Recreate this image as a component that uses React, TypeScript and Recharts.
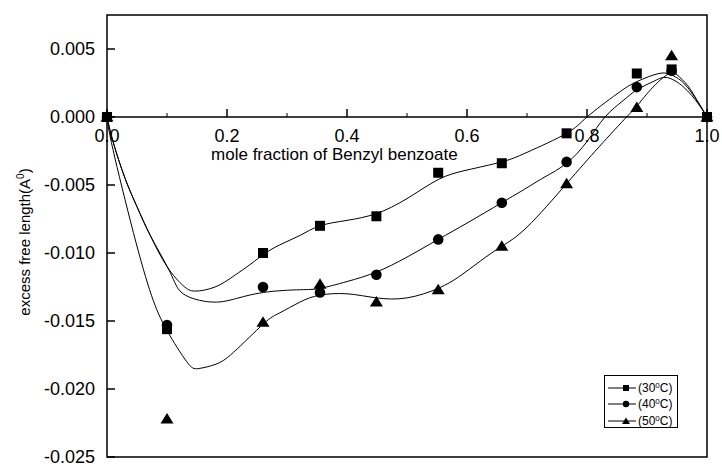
import React from 'react';
import {
  ComposedChart,
  Line,
  Scatter,
  XAxis,
  YAxis,
  ReferenceLine,
  ReferenceArea,
  ReferenceDot,
  Legend,
  Label,
} from 'recharts';

// measured points
const moleFraction = [0, 0.1, 0.26, 0.355, 0.449, 0.552, 0.658, 0.766, 0.883, 0.941, 1.0];
const excess30 = [0, -0.0156, -0.01, -0.008, -0.0073, -0.0041, -0.0034, -0.0012, 0.0032, 0.0035, 0];
const excess40 = [0, -0.0153, -0.0125, -0.0129, -0.0116, -0.009, -0.0063, -0.0033, 0.0022, 0.0034, 0];
const excess50 = [0, -0.0222, -0.0151, -0.0123, -0.0136, -0.0127, -0.0095, -0.0049, 0.0007, 0.0045, 0];

// fitted curves
const fitX30 = [0, 0.01, 0.03, 0.05, 0.072, 0.1, 0.127, 0.147, 0.18, 0.211, 0.24, 0.261, 0.288, 0.322, 0.355, 0.4, 0.449, 0.5, 0.552, 0.6, 0.658, 0.7, 0.766, 0.8, 0.85, 0.883, 0.92, 0.94, 0.961, 0.985, 1.0];
const fitY30 = [0, -0.0018, -0.0045, -0.0066, -0.0087, -0.011, -0.0124, -0.0128, -0.0125, -0.0117, -0.0108, -0.0101, -0.0094, -0.0087, -0.008, -0.0076, -0.0071, -0.006, -0.0046, -0.0039, -0.0033, -0.0026, -0.0012, 0, 0.0017, 0.0026, 0.0032, 0.0031, 0.0025, 0.0011, 0];
const fitX40 = [0, 0.01, 0.03, 0.05, 0.072, 0.105, 0.127, 0.172, 0.211, 0.261, 0.322, 0.355, 0.4, 0.449, 0.5, 0.552, 0.6, 0.658, 0.7, 0.73, 0.766, 0.8, 0.83, 0.86, 0.883, 0.91, 0.933, 0.961, 0.985, 1.0];
const fitY40 = [0, -0.0018, -0.0045, -0.0066, -0.0087, -0.0114, -0.013, -0.0136, -0.0134, -0.0129, -0.0127, -0.0126, -0.0121, -0.0114, -0.0103, -0.009, -0.0078, -0.0063, -0.0052, -0.0044, -0.0034, -0.0018, 0, 0.0012, 0.002, 0.0026, 0.0029, 0.0022, 0.001, 0];
const fitX50 = [0, 0.01, 0.044, 0.074, 0.1, 0.133, 0.152, 0.18, 0.211, 0.261, 0.288, 0.322, 0.355, 0.4, 0.449, 0.5, 0.552, 0.588, 0.622, 0.658, 0.7, 0.766, 0.82, 0.866, 0.883, 0.91, 0.937, 0.95, 0.968, 0.985, 1.0];
const fitY50 = [0, -0.0024, -0.0085, -0.0131, -0.0157, -0.018, -0.0185, -0.0182, -0.0173, -0.0152, -0.0144, -0.0136, -0.0131, -0.013, -0.0133, -0.0133, -0.0126, -0.0117, -0.0106, -0.0095, -0.0081, -0.0049, -0.0022, 0, 0.0008, 0.0022, 0.0032, 0.0031, 0.0023, 0.0011, 0];

// axes
const xMajorTicks = [0, 0.2, 0.4, 0.6, 0.8, 1.0];
const xMajorLabels = ['0.0', '0.2', '0.4', '0.6', '0.8', '1.0'];
const xMinorTicks = [0.1, 0.3, 0.5, 0.7, 0.9];
const yTicks = [-0.025, -0.02, -0.015, -0.01, -0.005, 0, 0.005];
const yTickLabels = ['-0.025', '-0.020', '-0.015', '-0.010', '-0.005', '0.000', '0.005'];
const temperatures = ['30', '40', '50'];
const xAxisTitle = 'mole fraction of Benzyl benzoate';
const yAxisTitle = 'excess free length(A';

const FONT = '"Liberation Sans", Arial, Helvetica, sans-serif';

const toPoints = (xs: number[], ys: number[]) => xs.map((x, i) => ({ x, y: ys[i] }));
const pts30 = toPoints(moleFraction, excess30);
const pts40 = toPoints(moleFraction, excess40);
const pts50 = toPoints(moleFraction, excess50);
const fit30 = toPoints(fitX30, fitY30);
const fit40 = toPoints(fitX40, fitY40);
const fit50 = toPoints(fitX50, fitY50);
const majorTickData = xMajorTicks.map((x, i) => ({ x, y: 0, lbl: xMajorLabels[i] }));
const minorTickData = xMinorTicks.map((x) => ({ x, y: 0 }));

const SquareMark = (p: any) => <rect x={p.cx - 5} y={p.cy - 5} width={10} height={10} fill="#000" />;
const CircleMark = (p: any) => <circle cx={p.cx} cy={p.cy} r={5.3} fill="#000" />;
const TriangleMark = (p: any) => (
  <polygon points={`${p.cx},${p.cy - 6} ${p.cx - 6.5},${p.cy + 4.5} ${p.cx + 6.5},${p.cy + 4.5}`} fill="#000" />
);

const MajorTick = (p: any) => (
  <g>
    <line x1={p.cx} y1={p.cy} x2={p.cx} y2={p.cy - 8} stroke="#000" strokeWidth={1.5} />
    <text x={p.cx} y={p.cy + 25} textAnchor="middle" fontFamily={FONT} fontSize={18} fill="#000">
      {p.payload?.lbl ?? ''}
    </text>
  </g>
);
const MinorTick = (p: any) => (
  <line x1={p.cx} y1={p.cy} x2={p.cx} y2={p.cy - 4} stroke="#000" strokeWidth={1} />
);

const YTick = (p: any) => {
  const idx = yTicks.findIndex((t) => Math.abs(t - p.payload.value) < 1e-9);
  return (
    <g>
      <line x1={p.x} y1={p.y} x2={p.x + 8} y2={p.y} stroke="#000" strokeWidth={1.5} />
      <text x={p.x - 12} y={p.y} dy="0.36em" textAnchor="end" fontFamily={FONT} fontSize={18} fill="#000">
        {idx >= 0 ? yTickLabels[idx] : ''}
      </text>
    </g>
  );
};

const YTitle = (props: any) => {
  const vb = props.viewBox || { x: 0, y: 0, width: 107, height: 442 };
  const x = vb.x + 30;
  const y = vb.y + vb.height / 2 + 6;
  return (
    <text transform={`translate(${x},${y}) rotate(-90)`} textAnchor="middle" fontFamily={FONT} fontSize={15} fill="#000">
      {yAxisTitle}
      <tspan dy={-6} fontSize={10}>0</tspan>
      <tspan dy={6}>)</tspan>
    </text>
  );
};

const XTitle = (p: any) => (
  <text x={p.cx} y={p.cy + 43} textAnchor="middle" fontFamily={FONT} fontSize={17} fill="#000">
    {xAxisTitle}
  </text>
);

const legendMarks = [
  (cx: number, cy: number) => <rect x={cx - 3} y={cy - 3} width={6} height={6} fill="#000" />,
  (cx: number, cy: number) => <circle cx={cx} cy={cy} r={3.2} fill="#000" />,
  (cx: number, cy: number) => <polygon points={`${cx},${cy - 3.5} ${cx - 4},${cy + 3} ${cx + 4},${cy + 3}`} fill="#000" />,
];

const LegendBox = () => (
  <div
    style={{
      width: 74,
      height: 53,
      boxSizing: 'border-box',
      border: '1px solid #000',
      background: '#fff',
      paddingTop: 4,
      fontFamily: FONT,
      fontSize: 12,
      color: '#000',
    }}
  >
    {temperatures.map((t, i) => (
      <div key={t} style={{ display: 'flex', alignItems: 'center', height: 16.3 }}>
        <svg width={33} height={12} style={{ display: 'block' }}>
          <line x1={3} y1={6} x2={31} y2={6} stroke="#000" strokeWidth={1} />
          {legendMarks[i](21, 6)}
        </svg>
        <span style={{ lineHeight: '12px', whiteSpace: 'nowrap' }}>
          ({t}
          <sup style={{ fontSize: 8, verticalAlign: 'top', lineHeight: '8px' }}>0</sup>C)
        </span>
      </div>
    ))}
  </div>
);

export default function App() {
  return (
    <div style={{ width: 722, height: 464 }}>
      <style>{'html,body{margin:0;padding:0;}'}</style>
      <ComposedChart width={722} height={464} margin={{ top: 15, right: 15, bottom: 7, left: 0 }}>
        <XAxis dataKey="x" type="number" domain={[0, 1]} hide />
        <YAxis
          dataKey="y"
          type="number"
          domain={[-0.025, 0.0075]}
          ticks={yTicks}
          interval={0}
          width={107}
          axisLine={false}
          tickLine={false}
          tickSize={0}
          tickMargin={0}
          tick={YTick}
        >
          <Label content={YTitle} />
        </YAxis>
        <ReferenceArea
          x1={0}
          x2={1}
          y1={-0.025}
          y2={0.0075}
          fill="none"
          fillOpacity={0}
          stroke="#000"
          strokeWidth={1.5}
          ifOverflow="visible"
        />
        <ReferenceLine y={0} stroke="#000" strokeWidth={1.5} />
        <Line data={fit30} dataKey="y" type="natural" stroke="#000" strokeWidth={1} dot={false} isAnimationActive={false} />
        <Line data={fit40} dataKey="y" type="natural" stroke="#000" strokeWidth={1} dot={false} isAnimationActive={false} />
        <Line data={fit50} dataKey="y" type="natural" stroke="#000" strokeWidth={1} dot={false} isAnimationActive={false} />
        <Scatter data={minorTickData} dataKey="y" shape={MinorTick} isAnimationActive={false} />
        <Scatter data={majorTickData} dataKey="y" shape={MajorTick} isAnimationActive={false} />
        <Scatter data={pts30} dataKey="y" shape={SquareMark} isAnimationActive={false} />
        <Scatter data={pts40} dataKey="y" shape={CircleMark} isAnimationActive={false} />
        <Scatter data={pts50} dataKey="y" shape={TriangleMark} isAnimationActive={false} />
        <ReferenceDot x={0.379} y={0} r={0} shape={XTitle} ifOverflow="visible" />
        <Legend
          layout="vertical"
          align="center"
          verticalAlign="middle"
          wrapperStyle={{ left: 604, top: 375, width: 74, height: 53 }}
          content={() => <LegendBox />}
        />
      </ComposedChart>
    </div>
  );
}
